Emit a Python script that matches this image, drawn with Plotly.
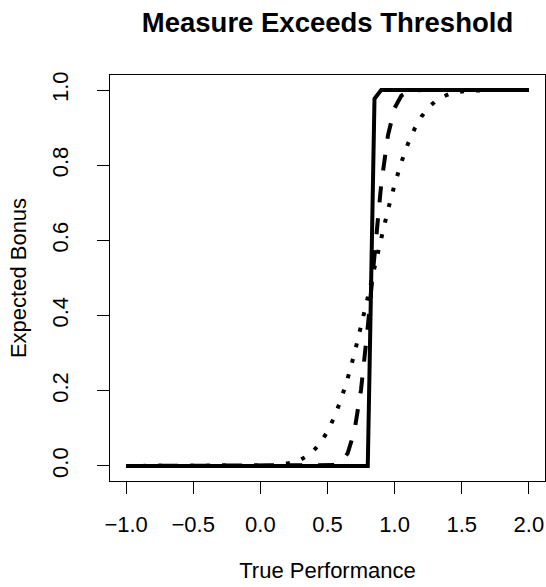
import plotly.graph_objects as go

# Solid curve (exact measure)
solid_x = [-1.0, 0.80, 0.85, 0.90, 2.0]
solid_y = [0.0, 0.0, 0.977, 1.0, 1.0]

# Dashed curve (moderate noise)
dashed_x = [-1.0, 0.50, 0.55, 0.60, 0.65, 0.70, 0.75, 0.80, 0.85, 0.90, 0.95,
            1.00, 1.05, 1.10, 1.15, 1.20, 2.0]
dashed_y = [0.0, 0.0003, 0.0023, 0.0099, 0.0336, 0.0918, 0.2033, 0.3707, 0.5675,
            0.7486, 0.879, 0.9525, 0.985, 0.9962, 0.9992, 1.0, 1.0]

# Dotted curve (high noise)
dotted_x = [-1.0, 0.0, 0.05, 0.10, 0.15, 0.20, 0.25, 0.30, 0.35, 0.40, 0.45,
            0.50, 0.55, 0.60, 0.65, 0.70, 0.75, 0.80, 0.85, 0.90, 0.95, 1.00,
            1.05, 1.10, 1.15, 1.20, 1.25, 1.30, 1.35, 1.40, 1.45, 1.50, 1.55,
            1.60, 1.65, 1.70, 2.0]
dotted_y = [0.0, 0.0004, 0.0009, 0.0017, 0.0032, 0.0057, 0.0099, 0.0166, 0.0268,
            0.0418, 0.063, 0.0918, 0.1292, 0.1762, 0.2327, 0.298, 0.3707, 0.4483,
            0.5279, 0.6064, 0.6808, 0.7486, 0.8078, 0.8577, 0.898, 0.9292, 0.9525,
            0.9693, 0.9808, 0.9884, 0.9932, 0.9962, 0.9979, 0.9989, 0.9995, 0.9998,
            1.0]

x_ticks = [-1.0, -0.5, 0.0, 0.5, 1.0, 1.5, 2.0]
x_tick_labels = ["\u22121.0", "\u22120.5", "0.0", "0.5", "1.0", "1.5", "2.0"]
y_ticks = [0.0, 0.2, 0.4, 0.6, 0.8, 1.0]
y_tick_labels = ["0.0", "0.2", "0.4", "0.6", "0.8", "1.0"]

FONT = "Liberation Sans, Arial, Helvetica, sans-serif"

fig = go.Figure()
fig.add_trace(go.Scatter(x=dotted_x, y=dotted_y, mode="lines",
                         line=dict(color="black", width=4, dash="4px,12px"),
                         showlegend=False, hoverinfo="skip"))
fig.add_trace(go.Scatter(x=dashed_x, y=dashed_y, mode="lines",
                         line=dict(color="black", width=4, dash="16px,16px"),
                         showlegend=False, hoverinfo="skip"))
fig.add_trace(go.Scatter(x=solid_x, y=solid_y, mode="lines",
                         line=dict(color="black", width=4),
                         showlegend=False, hoverinfo="skip"))

fig.update_layout(
    width=546, height=587,
    margin=dict(l=110, r=1, t=75, b=106, autoexpand=False),
    paper_bgcolor="white", plot_bgcolor="white",
    font=dict(family=FONT, size=22, color="black"),
    title=dict(text="<b>Measure Exceeds Threshold</b>", x=327.5 / 546, xanchor="center",
               y=1 - 22 / 587, yanchor="middle",
               font=dict(family=FONT, size=27.5, color="black")),
    xaxis=dict(range=[-1.12, 2.12], tickvals=x_ticks, ticktext=x_tick_labels,
               automargin=False, tickfont=dict(size=22),
               showgrid=False, zeroline=False, showline=True, linecolor="black",
               linewidth=1, mirror=True, ticks="outside", ticklen=12,
               tickcolor="black", tickwidth=1, ticklabelstandoff=12,
               title=dict(text="True Performance", standoff=26,
                          font=dict(family=FONT, size=22))),
    yaxis=dict(range=[-0.04, 1.04], tickvals=y_ticks, ticktext=y_tick_labels,
               tickangle=-90, automargin=False, tickfont=dict(size=22),
               showgrid=False, zeroline=False, showline=True, linecolor="black",
               linewidth=1, mirror=True, ticks="outside", ticklen=12,
               tickcolor="black", tickwidth=1, ticklabelstandoff=20,
               title=dict(text="Expected Bonus", standoff=15,
                          font=dict(family=FONT, size=22))),
)

fig.write_html("out.html", config={"displayModeBar": False},
               post_script="document.body.style.margin='0px';")
